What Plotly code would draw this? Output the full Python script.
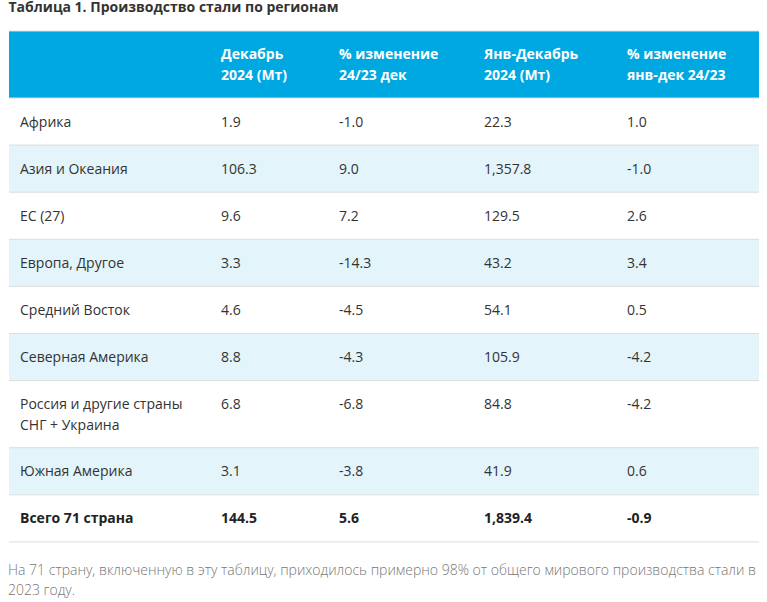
import plotly.graph_objects as go

# ---------------- data ----------------
title = "Таблица 1. Производство стали по регионам"
headers = ["", "Декабрь\n2024 (Мт)", "% изменение\n24/23 дек",
           "Янв-Декабрь\n2024 (Мт)", "% изменение\nянв-дек 24/23"]
regions = ["Африка", "Азия и Океания", "ЕС (27)", "Европа, Другое",
           "Средний Восток", "Северная Америка",
           "Россия и другие страны\nСНГ + Украина", "Южная Америка"]
dec_2024 = [1.9, 106.3, 9.6, 3.3, 4.6, 8.8, 6.8, 3.1]
chg_dec = [-1.0, 9.0, 7.2, -14.3, -4.5, -4.3, -6.8, -3.8]
jan_dec_2024 = [22.3, 1357.8, 129.5, 43.2, 54.1, 105.9, 84.8, 41.9]
chg_year = [1.0, -1.0, 2.6, 3.4, 0.5, -4.2, -4.2, 0.6]
total_label = "Всего 71 страна"
total_values = [144.5, 5.6, 1839.4, -0.9]
footnote = ["На 71 страну, включенную в эту таблицу, приходилось примерно 98% от общего мирового производства стали в",
            "2023 году."]

# ---------------- layout constants ----------------
W, H = 767, 602
FONT = "Open Sans"
FS = 14
TABLE_LEFT, TABLE_RIGHT = 9, 759
COL_X = [20, 221, 339, 484, 627]
HEADER_TOP, HEADER_H = 31, 67
ROW_H, EXTRA_LINE_H, LINE_GAP = 47.1, 20, 21
TEXT_DY = 1.5
HEADER_BG = "#00a8e1"
STRIPE_BG = "#e3f4fb"
LINE_COL = "#dddddd"
TEXT_COL = "#333333"


def fmt(v):
    return f"{v:,.1f}"


rows = [[regions[i], fmt(dec_2024[i]), fmt(chg_dec[i]), fmt(jan_dec_2024[i]), fmt(chg_year[i])]
        for i in range(len(regions))]
rows.append([total_label] + [fmt(v) for v in total_values])

shapes = []
texts = {"header": ([], [], []), "body": ([], [], []), "total": ([], [], [])}


def add_cells(cells, top, style, first_line_offset):
    xs, ys, ts = texts[style]
    for cx, cell in zip(COL_X, cells):
        for li, line in enumerate(cell.split("\n")):
            if not line:
                continue
            xs.append(cx)
            ys.append(top + first_line_offset + LINE_GAP * li + TEXT_DY)
            ts.append(f"<b>{line}</b>" if style != "body" else line)


# header
shapes.append(dict(type="rect", xref="x", yref="y", x0=TABLE_LEFT, x1=TABLE_RIGHT,
                   y0=HEADER_TOP, y1=HEADER_TOP + HEADER_H, fillcolor=HEADER_BG,
                   line=dict(width=0), layer="below"))
add_cells(headers, HEADER_TOP, "header", HEADER_H / 2 - LINE_GAP / 2)

boundaries = [HEADER_TOP, HEADER_TOP + HEADER_H]
top = HEADER_TOP + HEADER_H
for i, cells in enumerate(rows):
    nlines = max(c.count("\n") + 1 for c in cells)
    h = ROW_H + EXTRA_LINE_H * (nlines - 1)
    if i % 2 == 1:
        shapes.append(dict(type="rect", xref="x", yref="y", x0=TABLE_LEFT, x1=TABLE_RIGHT,
                           y0=top, y1=top + h, fillcolor=STRIPE_BG,
                           line=dict(width=0), layer="below"))
    style = "total" if i == len(rows) - 1 else "body"
    add_cells(cells, top, style, ROW_H / 2)
    top += h
    boundaries.append(top)

for yb in boundaries:
    shapes.append(dict(type="line", xref="x", yref="y", x0=TABLE_LEFT, x1=TABLE_RIGHT,
                       y0=yb, y1=yb, line=dict(color=LINE_COL, width=1), layer="below"))

fig = go.Figure()
colors = {"header": "#ffffff", "body": TEXT_COL, "total": "#222222"}
for style, (xs, ys, ts) in texts.items():
    fig.add_trace(go.Scatter(x=xs, y=ys, text=ts, mode="text", textposition="middle right",
                             textfont=dict(family=FONT, size=FS, color=colors[style]),
                             hoverinfo="skip", showlegend=False, cliponaxis=False))

# title
fig.add_trace(go.Scatter(x=[8.5], y=[8.2], text=[f"<b>{title}</b>"], mode="text",
                         textposition="middle right",
                         textfont=dict(family=FONT, size=FS, color="#333333"),
                         hoverinfo="skip", showlegend=False, cliponaxis=False))
# footnote
fig.add_trace(go.Scatter(x=[8, 8], y=[571.8, 591.2], text=footnote, mode="text",
                         textposition="middle right",
                         textfont=dict(family=FONT, size=FS, color="#777777", weight=300),
                         hoverinfo="skip", showlegend=False, cliponaxis=False))

fig.update_layout(
    width=W, height=H, margin=dict(l=0, r=0, t=0, b=0, pad=0),
    paper_bgcolor="white", plot_bgcolor="white", shapes=shapes,
    xaxis=dict(range=[0, W], visible=False, fixedrange=True),
    yaxis=dict(range=[H, 0], visible=False, fixedrange=True),
)
fig.write_html("out.html", config={"displayModeBar": False},
               post_script="document.body.style.margin='0';document.body.style.overflow='hidden';")
